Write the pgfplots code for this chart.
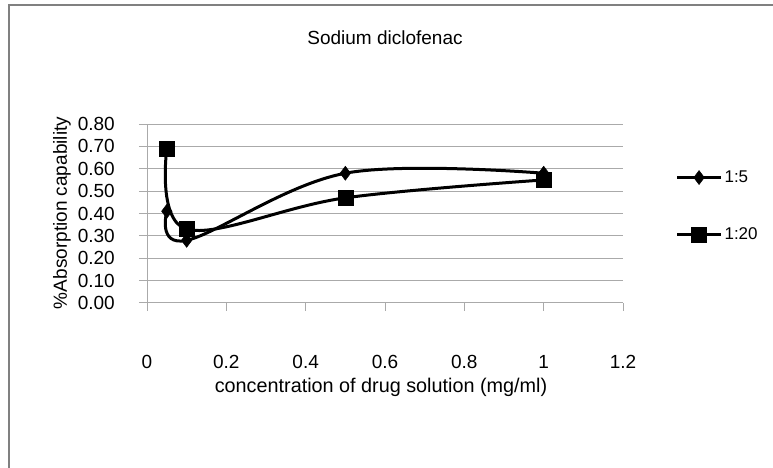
\documentclass[border=0pt]{standalone}
\usepackage{pgfplots}
\pgfplotsset{compat=1.18}
\usepackage{fontspec}
\setmainfont{Liberation Sans}

\definecolor{gridgray}{RGB}{170,170,170}
\definecolor{framegray}{RGB}{128,128,128}

\pgfplotstableread{
x     y
0.05  0.41
0.10  0.28
0.50  0.58
1.00  0.58
}\ratioA

\pgfplotstableread{
x     y
0.05  0.69
0.10  0.33
0.50  0.47
1.00  0.55
}\ratioB

\begin{document}
\begin{tikzpicture}
% page extent and chart frame (only top and left edges fall inside)
\path[use as bounding box] (0bp,0bp) rectangle (773bp,468bp);
\draw[framegray, line width=2.2bp] (9bp,-2bp) -- (9bp,463bp) -- (775bp,463bp);

\begin{axis}[
  at={(147bp,165bp)}, anchor=south west,
  scale only axis, width=476bp, height=179bp,
  xmin=0, xmax=1.2, ymin=0, ymax=0.8,
  xtick={0,0.2,...,1.2},
  ytick={0,0.1,...,0.8},
  font=\fontsize{19bp}{22bp}\selectfont,
  /pgf/number format/assume math mode=true,
  xticklabel style={/pgf/number format/fixed, anchor=base, yshift=-57bp},
  yticklabel style={/pgf/number format/fixed, /pgf/number format/fixed zerofill,
    /pgf/number format/precision=2, anchor=east, inner sep=0pt, xshift=-24bp},
  axis x line*=bottom, axis y line*=left,
  axis line style={gridgray, line width=1bp, -},
  tick align=outside, major tick length=8bp,
  tick style={gridgray, line width=1bp},
  ymajorgrids, grid style={gridgray, line width=1bp},
  title={Sodium diclofenac},
  title style={at={(axis description cs:0.5,1.447)}, anchor=center},
  xlabel={concentration of drug solution (mg/ml)},
  xlabel style={at={(axis description cs:0.4916,-0.47)}, anchor=center,
    font=\fontsize{19.8bp}{22bp}\selectfont},
  ylabel={\%Absorption capability},
  ylabel style={at={(axis description cs:-0.1786,0.503)}, anchor=center},
  legend style={draw=none, fill=none, at={(axis description cs:1.11,0.75)},
    anchor=north west, row sep=40bp, inner sep=0pt,
    font=\fontsize{17bp}{20bp}\selectfont},
  legend cell align=left,
  legend image code/.code={
    \draw[mark repeat=2, mark phase=2] plot coordinates {(0bp,0bp) (22bp,0bp) (44bp,0bp)};
  },
  every axis plot/.append style={black, line width=3bp, smooth, tension=0.6},
]
\addplot[mark=diamond*, mark size=7bp, mark options={solid, line width=0.5bp}] table {\ratioA};
\addlegendentry{1:5}
\addplot[mark=square*, mark size=7.5bp, mark options={solid, line width=0.5bp}] table {\ratioB};
\addlegendentry{1:20}
\end{axis}
\end{tikzpicture}
\end{document}
